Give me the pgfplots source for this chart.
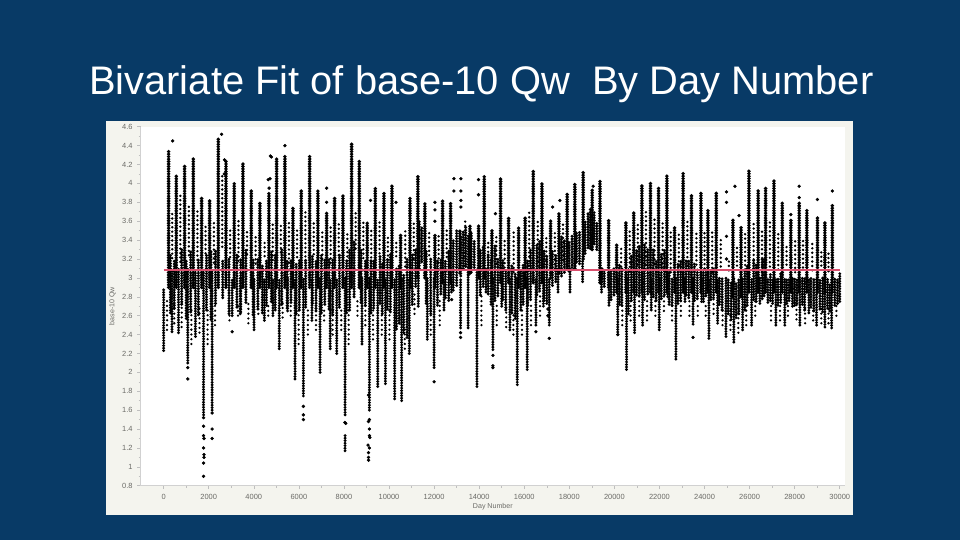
\documentclass[border=0pt]{standalone}
\usepackage{pgfplots}
\pgfplotsset{compat=1.18}
\usepackage{fontspec}
\setmainfont{Liberation Sans}
\definecolor{slide}{HTML}{083A66}
\definecolor{panel}{HTML}{F4F4EE}
\definecolor{tick}{HTML}{6A6A66}
\definecolor{fit}{HTML}{D9506E}
\pgfplotsset{seg/.style 2 args={draw=none,mark=none,forget plot,error bars/.cd,y dir=plus,y explicit,error mark=none,error bar style={draw=black,solid,line cap=round,line width=#1,dash pattern=on 0pt off #2}}}
\begin{document}
\begin{tikzpicture}
\path[use as bounding box] (0,0) rectangle (720pt,405pt);
\fill[slide] (0,0) rectangle (720pt,405pt);
\fill[panel] (79.5pt,18.75pt) rectangle (640pt,314.25pt);
\node[white,font=\fontsize{29.9pt}{33pt}\selectfont,anchor=center] at (361pt,341.5pt) {Bivariate Fit of base-10 Qw\ \ By Day Number};
\begin{axis}[
  at={(105.5pt,40.7pt)},anchor=south west,scale only axis,width=528.2pt,height=269.25pt,
  xmin=-1020,xmax=30230,ymin=0.8,ymax=4.6,
  axis background/.style={fill=white},
  axis x line*=bottom,axis y line*=left,
  axis line style={draw=black!18,line width=0.6pt},
  xtick={0,2000,...,30000},ytick={0.8,1,1.2,1.4,1.6,1.8,2,2.2,2.4,2.6,2.8,3,3.2,3.4,3.6,3.8,4,4.2,4.4,4.6},
  minor x tick num=1,minor y tick num=1,
  tick style={draw=black!25,line width=0.4pt},major tick length=2.5pt,minor tick length=1.5pt,
  tick align=outside,
  scaled x ticks=false,
  /pgf/number format/assume math mode=true,
  /pgf/number format/1000 sep={},
  xticklabel style={/pgf/number format/precision=0,yshift=-0.5pt},
  yticklabel style={/pgf/number format/fixed,/pgf/number format/precision=1},
  ticklabel style={font=\fontsize{5.6pt}{6pt}\selectfont,text=tick},
  xlabel={Day Number},ylabel={base-10 Qw},
  label style={font=\fontsize{5.3pt}{6pt}\selectfont,text=tick},
  xlabel style={yshift=4pt},ylabel style={yshift=-2pt},
  clip=true
]
% sparse upper scatter
\addplot[seg={2pt}{3.3pt}] table[x=x,y=lo,y error plus expr=\thisrow{hi}-\thisrow{lo}] {
x lo hi
380 3.21 3.72
740 3.17 3.9
1120 3.24 3.78
1500 3.19 3.71
1860 3.26 3.55
2230 3.16 3.62
2600 3.33 4.1
2950 3.22 3.5
3320 3.18 3.63
3700 3.25 3.52
4080 3.15 3.45
4480 3.23 3.4
4840 3.19 3.6
5200 3.27 3.55
5560 3.16 3.62
5920 3.22 3.5
6290 3.18 3.7
6660 3.25 3.58
7040 3.2 3.5
7410 3.16 3.55
7770 3.24 3.6
8150 3.18 3.5
8520 3.31 3.72
8860 3.21 3.6
9210 3.17 3.5
9580 3.26 3.6
9950 3.19 3.45
10320 3.23 3.4
10720 3.12 3.5
11100 3.2 3.6
11780 3.24 3.5
12200 3.16 3.45
12560 3.22 3.5
13380 3.13 3.6
14400 3.09 3.4
14760 3.15 3.45
15130 3.11 3.4
15530 3.06 3.5
16220 3.13 3.7
16600 3.08 3.6
16980 3.14 3.45
17360 3.1 3.5
17720 3.19 3.6
20300 3.12 3.35
20680 3.07 3.5
21040 3.14 3.6
21400 3.09 3.7
21780 3.15 3.65
22140 3.11 3.6
22500 3.06 3.5
22860 3.13 3.5
23240 3.08 3.6
23640 3.14 3.5
24000 3.1 3.5
24340 3.06 3.5
24720 3.12 3.4
25080 3.08 3.2
25440 3.13 3.35
25800 3.09 3.5
26180 3.15 3.6
26550 3.07 3.5
26900 3.12 3.6
27270 3.09 3.5
27640 3.14 3.35
28020 3.06 3.4
28370 3.11 3.4
28780 3.08 3.4
29180 3.13 3.3
29500 3.07 3.3
};
% sparse lower scatter
\addplot[seg={1.9pt}{3.6pt}] table[x=x,y=lo,y error plus expr=\thisrow{hi}-\thisrow{lo}] {
x lo hi
150 2.45 2.8
470 2.52 2.75
800 2.48 2.75
1230 2.3 2.7
1590 2.42 2.7
1950 2.3 2.7
2280 2.5 2.75
2920 2.55 2.75
3300 2.6 2.75
3760 2.52 2.75
4200 2.62 2.75
4640 2.6 2.75
5280 2.58 2.75
5640 2.6 2.75
5990 2.3 2.7
6400 2.4 2.7
6760 2.45 2.7
7120 2.55 2.7
7500 2.4 2.7
7880 2.45 2.7
8210 2.3 2.7
8600 2.6 2.8
8950 2.5 2.75
9290 2.35 2.7
9680 2.4 2.7
10020 2.35 2.7
10700 2.25 2.5
11130 2.62 2.85
11850 2.4 2.7
12250 2.5 2.8
14100 2.5 2.85
14780 2.5 2.75
15200 2.48 2.7
15520 2.4 2.65
15900 2.4 2.7
16300 2.5 2.75
16700 2.6 2.85
20350 2.5 2.75
20720 2.55 2.8
21100 2.6 2.85
21450 2.55 2.8
21820 2.6 2.8
22200 2.65 2.85
22560 2.55 2.75
22950 2.6 2.8
23330 2.6 2.8
23700 2.6 2.75
24050 2.6 2.75
24400 2.62 2.8
24800 2.5 2.7
25150 2.45 2.7
25500 2.42 2.7
25850 2.5 2.75
26250 2.6 2.8
26950 2.55 2.75
27350 2.55 2.75
27700 2.6 2.75
28080 2.56 2.72
28460 2.52 2.7
28820 2.55 2.7
29180 2.52 2.7
29500 2.52 2.7
29850 2.6 2.75
};
% dense band
\addplot[seg={2.5pt}{1.95pt}] table[x=x,y=lo,y error plus expr=\thisrow{hi}-\thisrow{lo}] {
x lo hi
300 2.63 3.25
470 2.68 3.2
800 2.72 3.3
1000 2.57 3.2
1200 2.64 3.3
1540 2.61 3.2
1900 2.66 3.25
2100 2.56 3.3
2300 2.73 3.3
2620 2.79 3.2
2900 2.62 3.2
3250 2.69 3.25
3420 2.64 3.2
3650 2.74 3.3
3970 2.61 3.2
4180 2.67 3.2
4380 2.63 3.15
4560 2.71 3.2
4780 2.75 3.3
4950 2.66 3.25
5240 2.72 3.3
5480 2.68 3.2
5650 2.74 3.2
5880 2.62 3.15
6020 2.66 3.2
6300 2.69 3.2
6600 2.73 3.25
6760 2.65 3.2
7000 2.63 3.25
7150 2.72 3.2
7340 2.67 3.2
7500 2.61 3.2
7800 2.69 3.25
8120 2.63 3.2
8250 2.66 3.3
8450 2.8 3.4
8760 2.74 3.3
8950 2.71 3.2
9200 2.63 3.2
9320 2.68 3.2
9600 2.73 3.25
9700 2.62 3.15
9930 2.67 3.2
10060 2.64 3.25
10330 2.46 3.1
10450 2.52 3.15
10650 2.42 3.05
10800 2.37 3.2
11030 2.72 3.25
11180 2.91 3.3
11340 3.1 3.6
11450 3.17 3.55
11650 2.73 3.3
11850 2.62 3.2
12150 2.71 3.2
12300 2.83 3.2
12500 2.79 3.2
12650 2.76 3.3
12850 2.87 3.4
13000 2.92 3.5
13180 3.02 3.45
13290 3.1 3.5
13400 3.12 3.55
13520 3.03 3.45
13650 3.06 3.5
13780 3.11 3.4
14050 2.82 3.3
14180 2.91 3.35
14400 2.83 3.25
14530 2.72 3.2
14700 2.76 3.35
14830 2.81 3.2
15050 2.77 3.2
15180 2.66 3.1
15450 2.63 3.15
15600 2.57 3.05
15850 2.66 3.1
15950 2.72 3.15
16150 2.71 3.2
16280 2.77 3.3
16560 2.82 3.35
16680 2.86 3.4
16880 2.76 3.3
17000 2.73 3.25
17250 2.92 3.3
17400 2.96 3.25
17650 3.02 3.45
17780 3.06 3.4
17990 3.07 3.4
18120 3.11 3.45
18320 3.17 3.5
18450 3.15 3.5
18700 3.26 3.6
18830 3.32 3.7
18930 3.31 3.75
19100 3.36 3.7
19220 3.3 3.6
19450 2.96 3.1
19550 2.91 3.1
19850 2.77 3.1
19980 2.82 3.1
20220 2.72 3.15
20330 2.71 3.1
20620 2.62 3.1
20750 2.76 3.25
20980 2.82 3.3
21100 2.81 3.35
21330 2.77 3.35
21480 2.83 3.3
21720 2.8 3.3
21850 2.76 3.2
22080 2.78 3.25
22220 2.82 3.3
22430 2.72 3.1
22560 2.71 3
22820 2.73 3.15
22940 2.76 3.2
23180 2.82 3.2
23300 2.79 3.2
23550 2.76 3.15
23680 2.78 3.1
23950 2.75 3.1
24060 2.81 3.1
24280 2.77 3.1
24400 2.79 3.1
24660 2.72 3
24780 2.66 3
25050 2.62 3
25180 2.56 2.95
25400 2.58 2.95
25520 2.62 3
25790 2.66 3.1
25890 2.71 3.15
26180 2.77 3.2
26290 2.75 3.15
26560 2.78 3.2
26640 2.81 3.2
26920 2.76 3.05
27020 2.73 3
27260 2.71 3
27380 2.74 3.05
27650 2.73 3
27750 2.76 3
28000 2.71 3
28100 2.73 3
28340 2.72 3
28440 2.66 3
28720 2.69 3
28850 2.65 3
29120 2.67 3
29240 2.64 3
29460 2.68 3
29560 2.65 2.95
29780 2.71 3
29900 2.73 3
};
% low limbs
\addplot[seg={2.4pt}{1.9pt}] table[x=x,y=lo,y error plus expr=\thisrow{hi}-\thisrow{lo}] {
x lo hi
0 2.23 2.88
370 2.43 3.1
660 2.42 3.1
1070 2.1 3.1
1410 2.38 3.1
1770 1.55 3.1
2150 1.6 3.1
3040 2.6 3
3400 2.62 3
4010 2.45 3
4470 2.55 3
4850 2.6 3
5130 2.25 3
5500 2.65 3
5830 1.93 3
6200 1.75 3
6580 2.55 3
6940 2 3
7390 2.25 3
7680 2.2 3
8050 1.55 3
8050 1.17 1.34
8800 2.3 3
9130 1.6 3
9500 1.85 3
9840 1.88 3
10250 1.72 3
10560 1.7 3
10900 2.2 3
11300 2.7 3.1
11700 2.35 3
12000 2.05 3
12440 2.66 3
12770 2.85 3
13175 2.47 3
13510 2.47 3.1
13900 1.85 3.1
14300 2.85 3.1
14610 2.24 3
15000 2.7 3
15365 2.45 3
15690 1.87 3
16130 2.03 3
16520 2.5 3
16850 2.7 3
17110 2.5 3
17500 2.85 3.1
18030 2.85 3.1
18590 2.96 3.2
19430 2.85 3.1
19760 2.71 3
20150 2.4 3
20540 2.03 3
20895 2.42 3
21250 2.5 3
21635 2.66 3
21990 2.45 3
22370 2.8 3
22730 2.14 3
23130 2.75 3
23490 2.51 3
23870 2.75 3
24195 2.36 3
24580 2.52 3
24950 2.38 3
25300 2.32 3
25690 2.45 3
26090 2.5 3
26455 2.73 3
26810 2.74 3
27165 2.5 3
27560 2.5 3
27900 2.7 3
28230 2.5 3
28630 2.63 3
28970 2.5 3
29340 2.48 3
29640 2.47 3
30000 2.75 3.05
};
% annual peaks
\addplot[seg={2.9pt}{1.85pt}] table[x=x,y=lo,y error plus expr=\thisrow{hi}-\thisrow{lo}] {
x lo hi
220 2.9 4.35
560 2.9 4.1
930 2.9 4.2
1315 2.9 4.27
1685 2.9 3.85
2040 2.9 3.83
2425 2.9 4.48
2765 2.9 4.25
3130 2.9 4
3518 2.9 4.22
3887 2.9 3.93
4270 2.9 3.8
4670 2.9 3.9
5013 2.9 4.26
5380 2.9 4.3
5737 2.9 3.75
6105 2.9 3.93
6478 2.9 4.3
6845 2.9 3.93
7232 2.9 3.7
7586 2.9 3.85
7955 2.9 3.88
8340 2.9 4.42
8680 2.9 4.25
9033 2.9 3.6
9390 2.9 3.97
9775 2.9 3.9
10130 2.9 3.98
10515 2.9 3.47
10930 2.9 3.85
11280 3 4.09
11590 3 3.8
12036 2.9 3.47
12377 2.95 3.82
12733 2.95 3.79
13145 3.05 3.5
13590 3.05 3.55
13975 3 3.55
14224 3 4.09
14565 2.95 3.5
14950 2.95 4.06
15305 2.95 3.65
15750 2.9 3.55
16040 2.9 3.65
16400 2.95 4.15
16785 2.95 4.02
17170 3 3.62
17540 3.05 3.7
17905 3.1 3.9
18245 3.1 4
18615 3.2 4.12
19015 3.3 3.95
19360 2.95 4.03
19745 2.9 3.62
20100 2.85 3.37
20510 2.85 3.6
20860 2.85 3.69
21220 2.85 3.98
21600 2.85 4
21960 2.85 3.97
22330 2.85 4.08
22670 2.85 3.55
23050 2.85 4.11
23420 2.85 3.89
23840 2.85 3.91
24150 2.85 3.72
24520 2.85 3.92
25260 2.8 3.63
25620 2.8 3.55
25970 2.85 4.13
26380 2.85 3.93
26710 2.85 3.96
27080 2.85 4.05
27450 2.85 3.79
27830 2.85 3.61
28200 2.85 3.8
28540 2.85 3.73
29010 2.85 3.65
29340 2.85 3.6
29670 2.85 3.78
};
% isolated points
\addplot[only marks,mark=*,mark size=1.05pt,black,forget plot] table {
400 4.45
2570 4.52
2700 4.25
2690 4.1
4740 4.29
4780 4.28
4640 4.04
4720 4.05
4680 3.95
5380 4.4
7232 3.95
7232 3.8
12036 3.8
12036 3.72
12036 3.6
12880 4.05
13190 4.05
12880 3.92
13190 3.92
13190 3.82
13190 3.75
13970 4.04
13970 3.88
14720 3.68
9180 3.82
10310 3.8
17580 3.82
17260 3.75
19060 3.97
24975 3.91
24975 3.8
25350 3.97
24975 3.44
24975 3.2
25530 3.66
28200 3.97
28200 3.85
28200 3.76
29010 3.83
29670 3.92
27830 3.67
1070 1.93
1070 2.05
1770 1.52
1770 1.43
1770 1.33
1790 1.3
1770 1.2
1790 1.13
1790 1.1
1770 1.04
1770 0.9
2150 1.57
2150 1.4
2150 1.3
3040 2.43
6200 1.64
6200 1.55
6200 1.5
8040 1.47
8080 1.46
9130 1.5
9090 1.48
9130 1.4
9130 1.33
9150 1.31
9070 1.23
9130 1.2
9090 1.15
9090 1.1
9090 1.07
9090 1.76
12000 1.9
13175 2.37
13175 2.42
14610 2.05
14610 2.07
14610 2.18
17110 2.36
16520 2.43
20150 2.4
23490 2.37
12780 2.77
17050 2.6
17050 2.67
};
\addplot[fit,line width=1.1pt,forget plot] coordinates {(0,3.085)(30000,3.085)};
\end{axis}
\end{tikzpicture}
\end{document}
